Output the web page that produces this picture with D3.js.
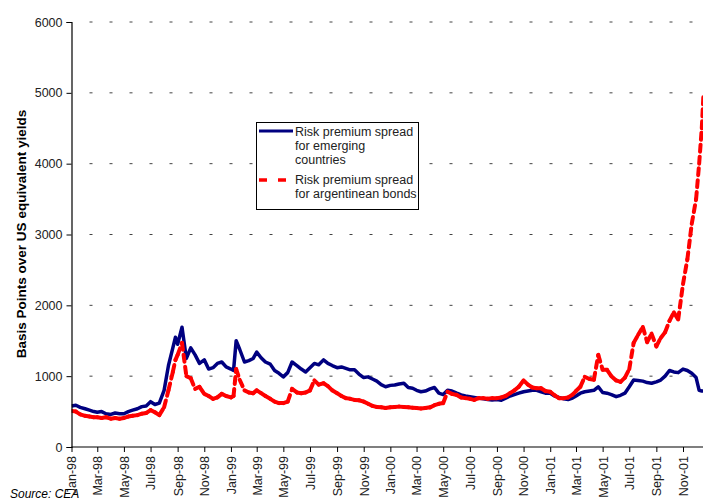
<!DOCTYPE html>
<html>
<head>
<meta charset="utf-8">
<script src="https://cdn.jsdelivr.net/npm/d3@7"></script>
<style>
  body { margin: 0; background: #fff; }
  text { font-family: "Liberation Sans", Arial, sans-serif; }
</style>
</head>
<body>
<svg id="chart" width="703" height="500"></svg>
<script>

var dates = [
  "1998-01-01","1998-01-11","1998-01-21","1998-02-01","1998-02-11","1998-02-21",
  "1998-03-01","1998-03-11","1998-03-21","1998-04-01","1998-04-11","1998-04-21",
  "1998-05-01","1998-05-11","1998-05-21","1998-06-01","1998-06-11","1998-06-21",
  "1998-07-01","1998-07-11","1998-07-21","1998-08-01","1998-08-11","1998-08-21","1998-08-27",
  "1998-09-01","1998-09-11","1998-09-21","1998-10-01","1998-10-11","1998-10-21",
  "1998-11-01","1998-11-11","1998-11-21","1998-12-01","1998-12-11","1998-12-21",
  "1999-01-01","1999-01-07","1999-01-13","1999-01-21","1999-02-01","1999-02-11","1999-02-21",
  "1999-03-01","1999-03-11","1999-03-21","1999-04-01","1999-04-11","1999-04-21",
  "1999-05-01","1999-05-11","1999-05-21","1999-06-01","1999-06-11","1999-06-21",
  "1999-07-01","1999-07-11","1999-07-21","1999-08-01","1999-08-11","1999-08-21",
  "1999-09-01","1999-09-11","1999-09-21","1999-10-01","1999-10-11","1999-10-21",
  "1999-11-01","1999-11-11","1999-11-21","1999-12-01","1999-12-11","1999-12-21",
  "2000-01-01","2000-01-11","2000-01-21","2000-02-01","2000-02-11","2000-02-21",
  "2000-03-01","2000-03-11","2000-03-21","2000-04-01","2000-04-11","2000-04-21",
  "2000-05-01","2000-05-11","2000-05-21","2000-06-01","2000-06-11","2000-06-21",
  "2000-07-01","2000-07-11","2000-07-21","2000-08-01","2000-08-11","2000-08-21",
  "2000-09-01","2000-09-11","2000-09-21","2000-10-01","2000-10-11","2000-10-21",
  "2000-11-01","2000-11-11","2000-11-21","2000-12-01","2000-12-11","2000-12-21",
  "2001-01-01","2001-01-11","2001-01-21","2001-02-01","2001-02-11","2001-02-21",
  "2001-03-01","2001-03-11","2001-03-21","2001-04-01","2001-04-11","2001-04-21",
  "2001-05-01","2001-05-11","2001-05-21","2001-06-01","2001-06-11","2001-06-21",
  "2001-07-01","2001-07-11","2001-07-21","2001-08-01","2001-08-11","2001-08-21",
  "2001-09-01","2001-09-11","2001-09-21","2001-10-01","2001-10-11","2001-10-21",
  "2001-11-01","2001-11-11","2001-11-21","2001-12-01","2001-12-08","2001-12-14","2001-12-18"
];

// risk premium spread, emerging countries (basis points)
var emerging = [
  580,590,560,540,520,500, 490,500,470,460,480,470, 470,500,520,540,570,580,
  640,600,620,800,1150,1400,1550, 1450,1690,1250,1400,1300,1180,
  1230,1100,1120,1180,1200,1130,
  1100,1080,1500,1380,1200,1220,1250, 1340,1260,1200,1170,1080,1040,
  990,1050,1200,1150,1100,1060, 1120,1180,1160,1230,1180,1150,
  1120,1130,1110,1090,1090,1030, 980,990,960,930,880,850,
  870,875,890,900,840,830, 800,780,790,820,840,760,
  740,800,790,760,735,720, 710,700,690,680,670,665,
  670,660,690,720,740,760, 780,790,800,800,780,760,
  760,720,700,680,670,690, 720,760,780,790,800,850,
  770,760,740,710,730,760, 850,945,940,930,910,900,
  920,945,1000,1080,1060,1050, 1100,1080,1040,980,800,790,790
];

// risk premium spread, argentinean bonds (basis points)
var argentina = [
  510,500,460,440,430,420, 420,410,420,400,410,400, 410,430,440,450,470,480,
  520,490,450,560,800,1060,1230, 1300,1470,1000,970,820,850,
  750,720,680,700,750,720,
  700,720,1100,950,800,770,760, 800,760,720,680,640,620,
  620,640,820,770,760,770, 800,940,880,900,860,800,
  760,720,690,680,665,660, 640,610,580,565,560,550,
  560,565,570,565,560,555, 550,545,550,560,590,610,
  620,780,750,735,700,690, 680,665,690,690,680,690,
  690,700,720,760,800,850, 940,880,840,830,830,790,
  780,730,690,690,700,740, 790,850,990,960,950,1300,
  1090,1090,1000,940,920,980, 1100,1470,1580,1695,1480,1600,
  1420,1540,1620,1780,1900,1800, 2300,2650,3150,3500,4000,4500,5000
];

var yTicks = [0, 1000, 2000, 3000, 4000, 5000, 6000];

var legendEmerging = ["Risk premium spread", "for emerging", "countries"];
var legendArgentina = ["Risk premium spread", "for argentinean bonds"];

function init(){

  var parse = d3.timeParse("%Y-%m-%d");
  var rows = dates.map(function(d, i){
    return {date: parse(d), em: emerging[i], ar: argentina[i]};
  });

  draw_chart(rows);
}

function draw_chart(rows){

  var svg = d3.select('#chart');
  var left = 71.5;
  var bottom = 447;
  var top = 22;
  var right = 703;

  var x = d3.scaleTime()
            .domain([new Date(1998, 0, 1), new Date(2001, 10, 1)])
            .range([left, 683]);
  var y = d3.scaleLinear().domain([0, 6000]).range([bottom, top]);

  // dashed gridlines
  svg.append('g').selectAll('line')
     .data(yTicks.filter(function(t){ return t > 0; }))
     .enter().append('line')
     .attr('x1', left + 18).attr('x2', right)
     .attr('y1', function(d){ return y(d); })
     .attr('y2', function(d){ return y(d); })
     .attr('stroke', '#444')
     .attr('stroke-width', 1)
     .attr('stroke-dasharray', '3,17');

  svg.append('defs').append('clipPath').attr('id', 'plotclip')
     .append('rect')
     .attr('x', left).attr('y', 0)
     .attr('width', right - left).attr('height', bottom);

  var plot = svg.append('g').attr('clip-path', 'url(#plotclip)');

  // emerging countries: solid navy line
  var lineEm = d3.line()
                 .x(function(d){ return x(d.date); })
                 .y(function(d){ return y(d.em); });

  plot.append('path')
      .datum(rows)
      .attr('d', lineEm)
      .attr('fill', 'none')
      .attr('stroke', '#000080')
      .attr('stroke-width', 3.5)
      .attr('stroke-linejoin', 'round');

  // argentina: dashed red, dash restarts on each segment (like Excel)
  var segs = d3.pairs(rows);
  plot.append('g').selectAll('line')
      .data(segs).enter()
      .append('line')
      .attr('x1', function(d){ return x(d[0].date); })
      .attr('y1', function(d){ return y(d[0].ar); })
      .attr('x2', function(d){ return x(d[1].date); })
      .attr('y2', function(d){ return y(d[1].ar); })
      .attr('stroke', '#ff0000')
      .attr('stroke-width', 4)
      .attr('stroke-linecap', 'round')
      .attr('stroke-dasharray', '7,5');

  // y axis
  var yAxis = svg.append('g')
                 .attr('transform', 'translate(' + left + ',0)')
                 .call(d3.axisLeft(y).tickValues(yTicks).tickSize(5).tickPadding(4)
                         .tickFormat(d3.format('d')));
  yAxis.select('.domain').attr('stroke', '#000').attr('stroke-width', 1.2);
  yAxis.selectAll('text').attr('font-size', '12.5px').attr('fill', '#222')
       .attr('font-family', '"Liberation Sans", Arial, sans-serif');

  // x axis
  var xTicks = d3.timeMonth.every(2).range(new Date(1998, 0, 1), new Date(2001, 11, 1));
  var xAxis = svg.append('g')
                 .attr('transform', 'translate(0,' + bottom + ')')
                 .call(d3.axisBottom(x).tickValues(xTicks).tickSize(5)
                         .tickFormat(d3.timeFormat('%b-%y')));
  xAxis.select('.domain').attr('d', 'M' + left + ',0H' + right)
       .attr('stroke', '#000').attr('stroke-width', 1.2);
  xAxis.selectAll('.tick text')
       .attr('font-size', '12.5px').attr('fill', '#222')
       .attr('font-family', '"Liberation Sans", Arial, sans-serif')
       .attr('text-anchor', 'end')
       .attr('x', 0).attr('y', 0).attr('dy', '0.35em')
       .attr('transform', 'translate(0,9) rotate(-90)');

  // y label
  svg.append('text')
     .attr('transform', 'translate(26,234) rotate(-90)')
     .attr('text-anchor', 'middle')
     .attr('font-size', '13.5px')
     .attr('font-weight', 'bold')
     .text('Basis Points over US equivalent yields');

  // source
  svg.append('text')
     .attr('x', 10).attr('y', 498)
     .attr('font-size', '12px')
     .attr('font-style', 'italic')
     .text('Source: CEA');

  // legend
  var lg = svg.append('g');
  lg.append('rect')
    .attr('x', 256.5).attr('y', 122.5).attr('width', 162).attr('height', 87)
    .attr('fill', '#fff').attr('stroke', '#000').attr('stroke-width', 1);
  lg.append('line')
    .attr('x1', 259).attr('x2', 293).attr('y1', 131).attr('y2', 131)
    .attr('stroke', '#000080').attr('stroke-width', 3);
  lg.append('line')
    .attr('x1', 259).attr('x2', 293).attr('y1', 180).attr('y2', 180)
    .attr('stroke', '#ff0000').attr('stroke-width', 3.5)
    .attr('stroke-dasharray', '8,11');
  lg.selectAll('text.em').data(legendEmerging).enter().append('text')
    .attr('x', 295).attr('y', function(d, i){ return 136 + i * 14; })
    .attr('font-size', '12.5px').attr('fill', '#222')
    .text(function(d){ return d; });
  lg.selectAll('text.ar').data(legendArgentina).enter().append('text')
    .attr('x', 295).attr('y', function(d, i){ return 184 + i * 14; })
    .attr('font-size', '12.5px').attr('fill', '#222')
    .text(function(d){ return d; });
}

init();
</script>
</body>
</html>
